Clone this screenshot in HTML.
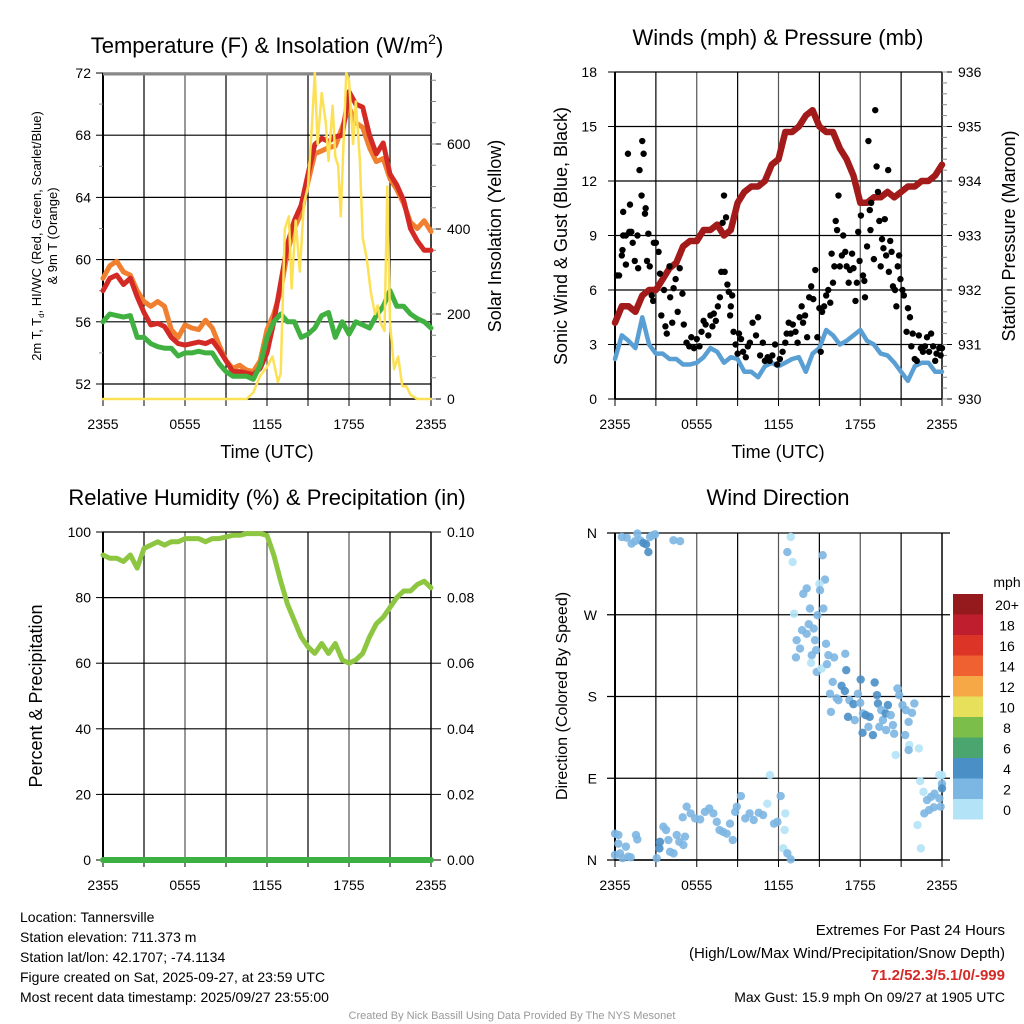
<!DOCTYPE html>
<html><head><meta charset="utf-8"><style>
html,body{margin:0;padding:0;background:#fff;width:1024px;height:1024px;overflow:hidden}
svg{display:block;font-family:"Liberation Sans",sans-serif}
</style></head><body>
<svg id="s" width="1024" height="1024" viewBox="0 0 1024 1024" xmlns="http://www.w3.org/2000/svg"></svg>
<script>
// ---------- DATA ----------
const tempT=[0,0.5,1,1.5,2,2.5,3,3.5,4,4.5,5,5.5,6,6.5,7,7.5,8,8.5,9,9.5,10,10.5,11,11.5,12,12.5,13,13.5,14,14.5,15,15.5,16,16.5,17,17.5,18,18.5,19,19.5,20,20.5,21,21.5,22,22.5,23,23.5,24];
const temp2m=[58,58.8,59,58.4,58.8,57.6,56.6,55.8,55.9,55.7,55,54.6,54.5,54.6,54.7,54.6,54.8,54.2,53.5,52.8,52.8,52.7,52.6,53,54,56,58.5,61,62.5,63.5,65.5,67.4,67.8,67.6,67.9,68,70.8,70,69.8,68,66.8,67.5,65.5,64.8,63.8,62,61.2,60.6,60.6];
const temp9m=[58.8,59.6,59.9,59.2,59,58,57.3,57,57.3,57,55.5,55,55.8,55.6,55.5,56.1,55.6,54.5,53.5,53,53.2,52.9,52.8,53.5,55.5,56.5,58,60.5,62,63,65,66.8,67,67.2,67.3,68.5,69.8,68.8,68.5,67.2,66.3,66.5,65.2,64.5,63.6,62.4,62,62.5,61.8];
const dewpt=[56,56.5,56.4,56.3,56.4,55,55,54.6,54.4,54.3,54.3,53.8,54,54,54.1,54,54,53.3,52.8,52.5,52.5,52.5,52.3,53.2,55,56,56.5,56,56,55,55.2,55.6,56.4,56.6,55,56,55.2,56,55.8,55.6,56.4,57,58,57,57,56.5,56.2,56,55.6];
const solarT=[0,10.5,11,11.5,12,12.4,12.8,13,13.3,13.6,13.8,14.1,14.4,14.7,15,15.3,15.5,15.7,16,16.3,16.5,16.8,17,17.2,17.4,17.6,17.8,18,18.3,18.5,18.8,19,19.3,19.6,19.9,20.1,20.3,20.6,20.8,21,21.3,21.6,21.9,22.2,22.5,23,24];
const solarV=[0,0,15,55,75,100,40,60,400,430,260,420,300,460,500,650,767,600,720,650,560,690,570,550,430,600,767,750,600,700,560,380,330,250,200,220,180,160,500,180,70,100,30,30,10,0,0];
const windT=tempT;
const windV=[2.2,3.5,3.2,2.8,4.5,3,2.5,2.5,2.2,2.2,1.9,1.9,2,2.3,2.8,2.6,2,2.3,2.2,1.5,1.5,1.2,1.8,2,1.8,2,2.2,2.3,1.5,2.5,2.8,3.8,3.5,3,3.2,3.5,3.8,3.2,3,2.5,2.4,2,1.5,1,1.8,2,2,1.5,1.5];
const presV=[931.4,931.7,931.7,931.6,931.9,932,932,932.2,932.4,932.5,932.8,932.9,932.9,933.1,933.1,933.2,933,933.1,933.6,933.8,933.9,933.9,934,934.3,934.4,934.9,934.9,935,935.2,935.3,935,934.9,934.9,934.6,934.4,934.1,933.6,933.6,933.7,933.7,933.8,933.7,933.8,933.9,933.9,934,934,934.1,934.3];
const gustT=[0.15,0.3,0.5,0.6,0.8,0.55,0.6,0.8,0.95,1.1,1.05,1.2,1.3,1.45,1.65,1.7,1.8,1.95,2,2.1,2.2,2.25,2.35,2.45,2.55,2.7,2.8,2.85,3,3.2,3.3,3.4,3.6,3.7,3.8,4,4.05,4.2,4.3,4.45,4.6,4.75,4.95,5.05,5.25,5.45,5.6,5.8,6,6.2,6.35,6.5,6.65,6.85,7,7.15,7.25,7.4,7.55,7.7,7.8,7.9,8,8.05,8.15,8.25,8.35,8.45,8.5,8.6,8.7,8.85,9,9.1,9.25,9.4,9.6,9.75,9.9,10.1,10.35,10.5,10.65,10.85,11,11.2,11.35,11.55,11.75,11.9,12.1,12.3,12.5,12.6,12.75,12.9,13.05,13.25,13.4,13.55,13.7,13.8,13.95,14.1,14.25,14.4,14.55,14.7,14.85,15,15.1,15.2,15.35,15.5,15.65,15.8,15.9,16,16.1,16.2,16.3,16.4,16.5,16.65,16.75,16.9,17,17.15,17.25,17.4,17.5,17.65,17.75,17.85,17.95,18.05,18.2,18.3,18.35,18.5,18.6,18.7,18.75,18.8,19,19.1,19.2,19.3,19.4,19.5,19.6,19.7,19.8,19.9,20.05,20.1,20.2,20.3,20.4,20.55,20.65,20.75,20.85,20.95,21.1,21.2,21.4,21.5,21.65,21.75,21.85,22,22.15,22.3,22.45,22.6,22.75,22.9,23.05,23.2,23.35,23.5,23.6,23.8,23.9,24];
const gustV=[6.8,6.8,7.9,9,9,8.2,10.3,7.4,13.5,10.7,9.2,9.2,8.6,7.6,9,7.2,12.6,11.2,14.2,13.5,10.2,10.5,7.6,9.1,7.3,5.7,5.4,8.6,8.6,8.1,6.9,4.6,6,4,3.6,7.3,5.6,4.2,6.1,6.6,4.8,7.2,5.8,4.1,3.1,2.9,3.4,2.8,3.3,2.9,3.7,4.3,4.1,3.5,4.6,4,4.7,4.3,5.1,5.6,7,9.7,11.2,7,10,6.3,5.9,4.6,5.1,5.7,3.7,3,2.5,3.6,3.3,2.6,2.3,2.9,3.1,4.2,3.5,4.5,2.4,3.1,2.1,2.3,2.1,2.4,3,1.9,2.2,2.6,3.1,3.6,4.2,3.6,4.1,3.7,3.1,4.5,5.1,4.2,4.6,3.4,5.6,6.2,5.5,7.1,3.4,5,2.6,4.8,5.1,5.7,6,5.3,8,6.4,7.3,9.8,9.3,11.2,7.3,7.9,9,8.1,7.3,6.4,7.1,8,7.2,5.4,6.4,9.2,7.6,10.1,6.8,6.5,5.6,8.4,14.2,10.4,9.3,10.8,7.7,15.9,12.8,11.4,9.8,7.3,8.8,8.3,9.9,7.9,12.6,7,8.7,8.1,6.2,6,5.1,7.3,7.9,6.6,6,5.7,3.7,5,4.5,2.9,3.6,2.2,2.1,3.5,2.8,2.6,2.9,3.4,2.6,3.6,2.9,2.1,2.5,2.8,2.4,2.8];
const rhV=[93,92,92,91,93,89,95,96,97,96,97,97,98,98,98,97,98,98,98.5,99,99,99.5,99.5,99.5,99,93,85,78,73,68,65,63,66,63,66,61,60,61,63,68,72,74,77,80,82,82,84,85,83];
const precipV=[0,0,0,0,0,0,0,0,0,0,0,0,0,0,0,0,0,0,0,0,0,0,0,0,0,0,0,0,0,0,0,0,0,0,0,0,0,0,0,0,0,0,0,0,0,0,0,0,0];
const dirT=[0.5,0.86,1.22,1.64,1.84,2.08,2.28,2.45,2.57,2.77,2.94,1.47,4.29,4.78,0,0.25,0.24,0,0.37,0.56,0.8,0.98,1.15,1.54,1.64,3.06,3.26,3.3,3.55,3.75,3.92,4.04,4.3,4.53,4.72,5.02,5.14,4.97,5.26,5.55,5.88,6.25,6.6,6.92,7.22,7.47,7.67,7.92,8.2,8.44,8.64,8.82,8.94,9.24,9.56,9.88,10.18,10.55,10.87,11.18,11.37,11.67,11.92,12.16,12.45,12.35,12.65,12.9,12.5,12.9,12.65,13.04,15.24,15.41,15,15.05,14.07,13.82,14.31,15.29,14.86,13.14,13.73,14.22,14.58,13.33,13.58,14.07,14.68,14.76,14.44,13.28,14.39,14.81,15.17,15.49,15.66,16.08,15.56,16.9,16.97,15.98,15.78,16.27,16.63,16.87,17.2,17.5,17.83,18.03,18.2,18.4,18.69,19.06,19.23,19.3,19.54,19.66,20.03,19.87,20.24,20.49,20.73,20.86,21.1,21.35,21.55,21.97,21.8,21.3,21.6,21.55,22.3,20.6,18.93,18.17,18.6,19.4,19.9,20.4,17.6,17.1,15.85,16.4,18,22.4,22.64,22.9,23.2,23.45,23.8,24,24,24,23.8,23.9,23.4,23.05,22.7,22.2,22.45];
const dirD=[355.6,354.9,348.3,359.3,352,349,347.6,339,355.6,357.5,358.5,351,352,351,29,27.5,18,5.5,7.3,2,14.7,3.7,3,27.5,22.7,2,12.8,20,36.7,33,22,9,7.3,27.5,20,16.5,25.7,47,58.7,51.3,45.8,44.7,53,56.8,51.3,42,33,31,29,40,22,53,58.7,70.4,45.8,51.3,44,52,49.5,62,93.5,40,42,70.4,33,12.8,7.3,0.7,51.3,355.6,339,328,335.5,308.7,304,297,299,293,276.8,276.8,269.5,271,253,259.6,254.8,242,232.8,249,242,231,225.5,223,217,207,210.8,238,225.5,223,215.6,227,209,196,183,178,191.7,186,176,171.6,183,198.7,161.3,159.5,157.6,195.4,181.5,172.3,165,154,170.5,161.3,159.5,139,188.8,181.5,170.5,165,152,172.3,162,137.5,126.5,121,122.8,115.5,137.5,140,146.6,146.6,143,148.5,154,157.6,163,176,173,86.9,75,66,69.6,73,93.5,93.5,84,78.8,67.8,58.7,58,55,51.3,38.5,12.8];
const dirS=[3,3,3,3,3,5,5,5,3,3,3,3,3,3,3,3,3,3,3,3,3,3,3,3,3,3,5,5,3,3,3,3,3,3,3,3,3,3,3,3,3,3,3,3,3,3,3,3,3,3,3,3,3,3,3,3,3,3,3,1,1,3,3,3,1,1,3,3,1,1,3,1,3,3,1,3,3,3,3,3,3,1,3,3,3,3,3,3,3,3,3,3,1,3,1,3,3,3,3,3,5,3,3,3,5,5,3,5,3,5,3,5,5,5,5,5,3,3,5,5,3,3,3,3,3,3,3,3,3,3,1,3,1,1,5,5,3,3,3,3,3,5,3,3,3,1,1,3,3,3,1,1,3,5,3,3,3,3,3,1,1];
const legendLabels=["20+","18","16","14","12","10","8","6","4","2","0"];
const legendColors=["#951a1d","#be1e2d","#dc3528","#ef6131","#f6a746","#e7e05a","#7bbf4a","#4aa56e","#4a8fc6","#7cb6e2","#b3e3f7"];
const timeLabels=["2355","0555","1155","1755","2355"];
const tempTicks=[52,56,60,64,68,72];
const solarTicks=[0,200,400,600];
const windTicks=[0,3,6,9,12,15,18];
const presTicks=[930,931,932,933,934,935,936];
const rhTicks=[0,20,40,60,80,100];
const precipTicks=[0,0.02,0.04,0.06,0.08,0.10];
const dirTicks=[0,90,180,270,360];
const dirLabels=["N","E","S","W","N"];

// ---------- HELPERS ----------
const S=document.getElementById('s');const NS='http://www.w3.org/2000/svg';
function mk(tag,a,name){const e=document.createElementNS(NS,tag);for(const k in a)e.setAttribute(k,a[k]);


S.appendChild(e);return e;}
function ln(x1,y1,x2,y2,c,w,name){return mk('line',{x1,y1,x2,y2,stroke:c,'stroke-width':w},name);}
function tx(x,y,str,size,anchor,name,extra){const e=mk('text',Object.assign({x,y,'font-size':size,'text-anchor':anchor||'start',fill:'#000'},extra||{}),name);e.textContent=str;return e;}
function path(xs,ys,c,w,name){let d='';for(let i=0;i<xs.length;i++)d+=(i?'L':'M')+xs[i].toFixed(1)+' '+ys[i].toFixed(1);
return mk('path',{d,fill:'none',stroke:c,'stroke-width':w,'stroke-linejoin':'round','stroke-linecap':'round'},name);}
function grid(P){for(let h=0;h<=24;h+=3){const x=P.X(h);ln(x,P.y0,x,P.y1,h%6==0?'#555':'#000',1.2,'v-grid-line');ln(x,P.y1,x,P.y1+7,'#000',1,'x-tick');}
ln(P.x0,P.y1,P.x1,P.y1,'#000',1.6,'x-axis');ln(P.x0,P.y0,P.x0,P.y1,'#000',2,'left-axis');ln(P.x1,P.y0,P.x1,P.y1,'#000',1.4,'right-axis');
timeLabels.forEach((l,i)=>tx(P.X(i*6),P.y1+30,l,14,'middle','time-tick-label'));}
function leftTicks(P,ticks,Y,fmt,lx){ticks.forEach(v=>{const y=Y(v);ln(P.x0,y,P.x1,y,'#000',1.2,'h-grid-line');ln(P.x0-7,y,P.x0,y,'#000',1,'y-tick');tx(lx,y+5,fmt(v),14,'end','y-tick-label');});}
function rightTicks(P,ticks,Y,fmt,minor){ticks.forEach(v=>{const y=Y(v);ln(P.x1,y,P.x1+10,y,'#000',1,'right-tick');tx(P.x1+16,y+5,fmt(v),14,'start','right-tick-label');});
if(minor)for(let v=minor[0];v<=minor[1]+1e-9;v+=minor[2]){const y=Y(v);ln(P.x1,y,P.x1+5,y,'#888',1,'right-minor-tick');}}

// ---------- PANEL 1: temperature ----------
const P1={x0:103,x1:431,y0:73,y1:399,X:t=>103+t*328/24};
const TY=v=>73+(72-v)*15.55, SY=v=>399-v*0.425;
grid(P1);leftTicks(P1,tempTicks,TY,v=>v,91);
[54,58,62,66,70].forEach(v=>ln(P1.x0-4,TY(v),P1.x0,TY(v),'#888',1,'y-minor-tick'));
ln(P1.x0,74,P1.x1,74,'#888',3,'top-grid-line');
rightTicks(P1,solarTicks,SY,v=>v,[0,750,50]);
path(tempT.map(P1.X),temp9m.map(TY),'#f07f2f',5,'temp-9m-line');
path(tempT.map(P1.X),temp2m.map(TY),'#d42a26',5,'temp-2m-line');
path(tempT.map(P1.X),dewpt.map(TY),'#40b040',5,'dewpoint-line');
path(solarT.map(P1.X),solarV.map(SY),'#fce157',2.5,'solar-line');
const t1=tx(267,53,'Temperature (F) & Insolation (W/m',22,'middle','temp-title');
const sup=document.createElementNS(NS,'tspan');sup.setAttribute('dy','-9');sup.setAttribute('font-size','14');sup.textContent='2';t1.appendChild(sup);
const cl=document.createElementNS(NS,'tspan');cl.setAttribute('dy','9');cl.textContent=')';t1.appendChild(cl);
tx(267,458,'Time (UTC)',18,'middle','x-axis-title');
tx(0,0,'2m T, T',13,'middle','temp-y-title',{transform:'translate(41,236) rotate(-90)'}).innerHTML='2m T, T<tspan font-size="8" dy="3">d</tspan><tspan dy="-3">, HI/WC (Red, Green, Scarlet/Blue)</tspan>';
tx(0,0,'& 9m T (Orange)',13,'middle','temp-y-title-2',{transform:'translate(57,236) rotate(-90)'});
tx(0,0,'Solar Insolation (Yellow)',18,'middle','solar-y-title',{transform:'translate(501,236) rotate(-90)'});

// ---------- PANEL 2: winds ----------
const P2={x0:615,x1:942,y0:72,y1:399,X:t=>615+t*327/24};
const WY=v=>72+(18-v)*327/18, PY=v=>72+(936-v)*327/6;
grid(P2);leftTicks(P2,windTicks,WY,v=>v,597);
rightTicks(P2,presTicks,PY,v=>v,[930,936,0.2]);
path(windT.map(P2.X),windV.map(WY),'#5a9fd4',4.5,'wind-line');
path(windT.map(P2.X),presV.map(PY),'#a31a1a',6.5,'pressure-line');
for(let i=0;i<gustT.length;i++){const c=mk('circle',{cx:P2.X(gustT[i]),cy:WY(gustV[i]),r:3.2,fill:'#000'},'gust-dot');
}
tx(778,45,'Winds (mph) & Pressure (mb)',22,'middle','wind-title');
tx(778,458,'Time (UTC)',18,'middle','x-axis-title-2');
tx(0,0,'Sonic Wind & Gust (Blue, Black)',18,'middle','wind-y-title',{transform:'translate(567,236) rotate(-90)'});
tx(0,0,'Station Pressure (Maroon)',18,'middle','pressure-y-title',{transform:'translate(1015,236) rotate(-90)'});

// ---------- PANEL 3: humidity ----------
const P3={x0:103,x1:431,y0:532,y1:860,X:t=>103+t*328/24};
const RY=v=>532+(100-v)*3.28, QY=v=>860-v*3280;
grid(P3);leftTicks(P3,rhTicks,RY,v=>v,91);
rightTicks(P3,precipTicks,QY,v=>v.toFixed(2),null);
path(tempT.map(P3.X),rhV.map(RY),'#8dc641',5,'humidity-line');
path(tempT.map(P3.X),precipV.map(QY),'#3cb043',6,'precip-line');
tx(267,505,'Relative Humidity (%) & Precipitation (in)',22,'middle','humidity-title');
tx(0,0,'Percent & Precipitation',18,'middle','humidity-y-title',{transform:'translate(42,696) rotate(-90)'});

// ---------- PANEL 4: direction ----------
const P4={x0:615,x1:942,y0:533,y1:860,X:t=>615+t*327/24};
const DY=d=>860-d*327/360;
grid(P4);
dirTicks.forEach((d,i)=>{const y=DY(d);ln(P4.x0-8,y,P4.x1+8,y,'#000',1.2,'dir-grid-line');tx(597,y+5,dirLabels[i],14,'end','dir-tick-label');});
const spColor=s=>s<2?'#b3e3f7':s<4?'#7cb6e2':'#4a8fc6';
for(let i=0;i<dirT.length;i++){const c=mk('circle',{cx:P4.X(dirT[i]),cy:DY(dirD[i]),r:4.2,fill:spColor(dirS[i]),'fill-opacity':0.9},'dir-dot');
}
tx(778,505,'Wind Direction',22,'middle','direction-title');
tx(0,0,'Direction (Colored By Speed)',16,'middle','direction-y-title',{transform:'translate(567,696) rotate(-90)'});
tx(1007,587,'mph',14,'middle','legend-title');
legendLabels.forEach((l,i)=>{const y=594+i*20.5;mk('rect',{x:953,y,width:30,height:20.5,fill:legendColors[i]},'legend-swatch');tx(1007,y+16,l,14,'middle','legend-label');});

// ---------- TEXT ----------
['Location: Tannersville','Station elevation: 711.373 m','Station lat/lon: 42.1707; -74.1134','Figure created on Sat, 2025-09-27, at 23:59 UTC','Most recent data timestamp: 2025/09/27 23:55:00'].forEach((l,i)=>tx(20,922+i*20,l,14,'start','station-info'));
tx(1005,935,'Extremes For Past 24 Hours',15,'end','extremes-title');
tx(1005,958,'(High/Low/Max Wind/Precipitation/Snow Depth)',15,'end','extremes-subtitle');
tx(1005,980,'71.2/52.3/5.1/0/-999',15,'end','extremes-values',{fill:'#d42a26','font-weight':'bold'});
tx(1005,1002,'Max Gust: 15.9 mph On 09/27 at 1905 UTC',14,'end','max-gust');
tx(512,1019,'Created By Nick Bassill Using Data Provided By The NYS Mesonet',11,'middle','credit',{fill:'#999'});
</script>
</body></html>
